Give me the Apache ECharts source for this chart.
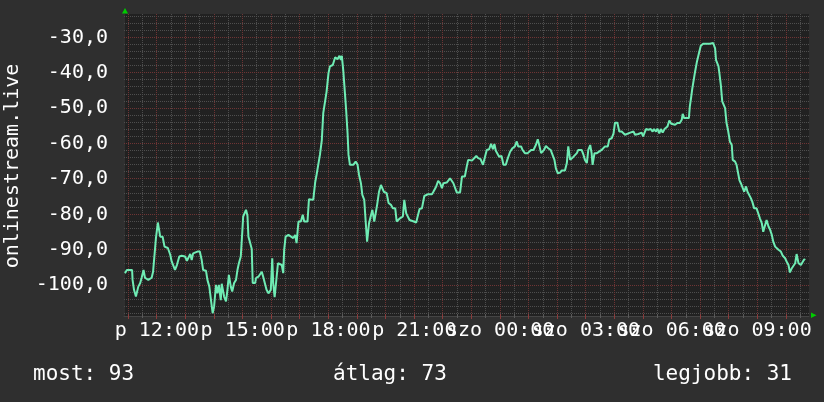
<!DOCTYPE html>
<html><head><meta charset="utf-8">
<script src="https://cdn.jsdelivr.net/npm/echarts@6/dist/echarts.min.js"></script>
<style>html,body{margin:0;padding:0;background:#2f2f2f;}#c{width:824px;height:402px;}</style>
</head><body><div id="c"></div>
<script>
// time in minutes since Friday 00:00
const times = [653,657,668,669,672,676,679,681,685,688,692,695,699,702,709,712,716,718,722,725,727,732,736,743,748,751,754,758,762,767,772,779,783,786,790,793,796,800,805,810,814,817,823,826,830,833,837,840,844,847,850,854,856,859,861,865,868,871,875,878,882,886,889,892,896,899,901,905,907,910,912,915,919,921,926,928,933,936,940,943,947,950,954,959,962,964,967,971,974,978,982,985,987,990,996,999,1006,1010,1013,1017,1022,1026,1029,1036,1039,1043,1048,1052,1055,1059,1062,1066,1069,1073,1076,1080,1083,1089,1094,1099,1103,1106,1108,1111,1115,1117,1120,1122,1125,1132,1137,1141,1144,1148,1151,1155,1158,1161,1165,1169,1172,1176,1180,1182,1186,1190,1194,1196,1202,1206,1211,1215,1220,1223,1230,1236,1239,1243,1246,1250,1259,1264,1267,1271,1276,1281,1289,1297,1300,1306,1310,1314,1318,1321,1328,1335,1339,1342,1345,1349,1356,1360,1366,1370,1373,1381,1385,1390,1394,1399,1404,1408,1412,1417,1421,1425,1428,1431,1435,1438,1443,1447,1452,1455,1461,1466,1471,1475,1478,1484,1487,1492,1498,1501,1505,1510,1515,1519,1522,1526,1529,1532,1536,1541,1546,1550,1554,1557,1561,1566,1569,1576,1580,1583,1587,1590,1594,1597,1601,1604,1611,1615,1618,1622,1625,1629,1632,1634,1638,1643,1646,1653,1657,1660,1666,1669,1674,1678,1681,1686,1690,1695,1699,1702,1706,1713,1720,1723,1730,1737,1740,1746,1751,1756,1760,1763,1767,1770,1774,1777,1781,1785,1788,1791,1795,1799,1803,1807,1812,1817,1821,1823,1826,1836,1838,1841,1843,1847,1849,1853,1856,1858,1861,1866,1880,1884,1887,1891,1893,1896,1898,1900,1903,1906,1910,1912,1915,1918,1922,1926,1928,1933,1936,1939,1942,1945,1949,1952,1956,1959,1963,1966,1969,1973,1978,1982,1985,1989,1992,1996,1999,2003,2006,2010,2013,2017,2024,2029,2033,2038,2041,2045,2048,2052,2055,2059,2062,2066,2071,2075,2078,2080];
const values = [-96.6,-95.7,-95.7,-98.5,-101.3,-103.2,-103.7,-100.4,-99.4,-97.9,-95.7,-97.9,-97.9,-98.5,-97.9,-96.2,-96.2,-86.7,-82.3,-82.5,-86.3,-86.3,-89.1,-89.5,-91.4,-93.3,-93.3,-95.7,-94.3,-91.9,-91.7,-91.9,-93.1,-93.1,-91.2,-92.9,-91.0,-91.4,-90.5,-90.5,-92.9,-95.7,-95.9,-98.5,-100.4,-103.7,-107.9,-106.0,-99.9,-102.3,-99.9,-104.2,-99.6,-99.6,-103.2,-104.6,-101.3,-97.1,-100.4,-101.8,-99.4,-98.5,-95.7,-93.8,-91.9,-85.3,-80.6,-80.1,-78.7,-80.4,-86.3,-87.7,-89.8,-99.4,-99.4,-98.0,-97.6,-98.0,-96.2,-97.6,-97.7,-101.3,-102.3,-101.3,-92.4,-99.4,-103.4,-103.4,-93.8,-93.6,-94.3,-96.6,-90.0,-86.3,-85.8,-85.3,-86.7,-85.8,-88.1,-82.0,-82.0,-80.1,-82.0,-82.0,-75.7,-75.7,-75.9,-71.0,-68.8,-68.8,-63.2,-59.0,-51.4,-51.0,-45.3,-40.1,-38.2,-37.8,-35.6,-36.2,-35.2,-36.4,-35.2,-39.4,-39.7,-50.5,-57.1,-63.2,-66.0,-66.0,-65.1,-66.0,-68.8,-71.2,-74.5,-75.9,-82.0,-87.7,-82.5,-82.0,-78.7,-82.0,-81.6,-77.3,-73.6,-71.7,-72.1,-73.6,-74.0,-76.8,-77.3,-78.3,-78.3,-82.0,-81.1,-80.6,-75.9,-79.7,-80.1,-81.6,-82.0,-82.3,-80.6,-78.5,-78.3,-74.8,-74.3,-74.3,-73.6,-72.1,-70.5,-71.2,-72.6,-71.2,-71.0,-69.8,-69.8,-71.2,-71.2,-73.8,-73.8,-69.3,-69.3,-66.5,-64.6,-64.8,-64.4,-63.5,-64.1,-64.4,-66.0,-66.0,-61.8,-61.6,-60.1,-61.6,-60.1,-62.0,-61.6,-63.7,-63.5,-66.0,-66.0,-64.6,-62.3,-61.3,-60.8,-59.4,-60.8,-60.8,-61.8,-62.7,-62.7,-62.3,-61.8,-61.8,-60.4,-58.8,-60.4,-62.7,-62.9,-61.8,-60.7,-61.3,-61.8,-63.2,-64.6,-67.0,-68.4,-68.2,-67.6,-67.6,-65.5,-60.8,-64.6,-65.1,-63.7,-63.2,-62.7,-61.8,-61.8,-63.2,-64.6,-65.5,-61.8,-60.4,-62.7,-66.0,-62.7,-62.7,-62.3,-61.8,-61.8,-60.8,-60.8,-58.8,-58.5,-57.1,-54.1,-54.1,-56.6,-56.6,-56.1,-57.5,-57.1,-56.9,-56.6,-57.5,-57.3,-56.9,-58.0,-55.9,-56.1,-55.9,-56.6,-55.9,-56.6,-55.8,-57.1,-55.9,-56.9,-55.9,-56.1,-55.2,-53.5,-54.4,-54.4,-54.7,-54.2,-54.2,-53.3,-51.6,-52.8,-52.8,-49.5,-46.7,-44.6,-44.4,-39.7,-36.8,-36.4,-34.0,-32.4,-31.8,-31.8,-31.5,-31.6,-33.1,-36.4,-36.6,-38.1,-40.1,-43.4,-48.1,-48.6,-50.0,-54.2,-56.1,-59.4,-60.4,-64.6,-65.1,-66.0,-66.5,-70.3,-71.2,-71.7,-73.6,-72.1,-73.6,-74.0,-75.4,-76.4,-78.3,-78.3,-78.7,-81.1,-82.5,-84.9,-83.0,-81.6,-83.4,-84.2,-85.8,-87.7,-89.1,-90.0,-90.5,-91.7,-92.4,-93.3,-94.3,-96.4,-95.2,-95.2,-93.8,-91.2,-93.8,-94.3,-93.8,-92.7,-92.9];

const xRange = [651, 2088];
const yRange = [-108.7, -23.4];
const xTickValues = [720, 900, 1080, 1260, 1440, 1620, 1800, 1980];
const xTickLabels = ['p 12:00', 'p 15:00', 'p 18:00', 'p 21:00', 'szo 00:00', 'szo 03:00', 'szo 06:00', 'szo 09:00'];
const yTickValues = [-30, -40, -50, -60, -70, -80, -90, -100];
const yTickLabels = ['-30,0', '-40,0', '-50,0', '-60,0', '-70,0', '-80,0', '-90,0', '-100,0'];
const yTitle = 'onlinestream.live';
const statLabels = ['most: 93', 'átlag: 73', 'legjobb: 31'];

if (times.length !== values.length) throw new Error('length mismatch ' + times.length + ' ' + values.length);

// grid/tick items: [kind (0 vertical line, 1 horizontal line, 2 x label), value, level or label index]
const gridItems = [];
for (let m = 690; m <= xRange[1]; m += 60) gridItems.push([0, m, 0]);
for (let v = -108; v <= -24; v += 2) if (v % 10 !== 0) gridItems.push([1, v, 0]);
for (let m = 660; m <= xRange[1]; m += 60) gridItems.push([0, m, 1]);
yTickValues.forEach(v => gridItems.push([1, v, 1]));
xTickValues.forEach((v, i) => gridItems.push([2, v, i]));

const FONT = 'DejaVu Sans Mono';
const RED = '#6e3434';
const GREY = '#4e4e4e';

const chart = echarts.init(document.getElementById('c'), null, {renderer: 'canvas'});
chart.setOption({
  backgroundColor: '#2f2f2f',
  animation: false,
  textStyle: {fontFamily: FONT},
  grid: {left: 124, right: 15, top: 14, bottom: 86, show: true, backgroundColor: '#212121', borderWidth: 0, containLabel: false, outerBoundsMode: 'none'},
  xAxis: {type: 'value', min: xRange[0], max: xRange[1], position: 'bottom',
     axisLine: {show: true, onZero: false, lineStyle: {color: '#444444', width: 1}},
     axisTick: {show: false}, splitLine: {show: false}, axisLabel: {show: false}},
  yAxis: {type: 'value', min: yRange[0], max: yRange[1], position: 'left',
     axisLine: {show: true, onZero: false, lineStyle: {color: '#303030', width: 2}},
     axisTick: {show: false},
     splitLine: {show: false},
     axisLabel: {show: true, customValues: yTickValues, color: '#ffffff', fontFamily: FONT, fontSize: 20, margin: 16,
       showMinLabel: true, showMaxLabel: true,
       formatter: v => { const i = yTickValues.indexOf(Math.round(v)); return i >= 0 ? yTickLabels[i] : ''; }}},
  graphic: [
    {type: 'polygon', shape: {points: [[122, 13.5], [128, 13.5], [125, 8]]}, style: {fill: '#00cc00'}, z: 100},
    {type: 'polygon', shape: {points: [[811, 312.5], [811, 318], [816.5, 315.2]]}, style: {fill: '#00cc00'}, z: 100},
    {type: 'text', x: 13, y: 166, rotation: Math.PI / 2,
     style: {text: yTitle, fill: '#ffffff', font: '20px "' + FONT + '"', textAlign: 'center', textVerticalAlign: 'middle'}},
    {type: 'text', x: 33, y: 375, style: {text: statLabels[0], fill: '#ffffff', font: '21px "' + FONT + '"', textAlign: 'left', textVerticalAlign: 'middle'}},
    {type: 'text', x: 333, y: 375, style: {text: statLabels[1], fill: '#ffffff', font: '21px "' + FONT + '"', textAlign: 'left', textVerticalAlign: 'middle'}},
    {type: 'text', x: 792, y: 375, style: {text: statLabels[2], fill: '#ffffff', font: '21px "' + FONT + '"', textAlign: 'right', textVerticalAlign: 'middle'}}
  ],
  series: [{
    type: 'custom', z: 1, silent: true, clip: false,
    data: gridItems,
    encode: {x: 1, y: 1},
    renderItem: function (params, api) {
      const cs = params.coordSys;
      const kind = api.value(0), val = api.value(1), extra = api.value(2);
      if (kind === 2) {
        const x = api.coord([val, yRange[0]])[0];
        return {type: 'text', x: x, y: cs.y + cs.height + 5,
          style: {text: xTickLabels[extra], fill: '#ffffff', font: '20px "' + FONT + '"', textAlign: 'center', textVerticalAlign: 'top'}};
      }
      const major = extra === 1;
      const color = major ? RED : GREY;
      const children = [];
      if (kind === 0) {
        const x = Math.floor(api.coord([val, yRange[0]])[0]) + 0.5;
        children.push({type: 'line', shape: {x1: x, y1: cs.y, x2: x, y2: cs.y + cs.height},
          style: {stroke: color, lineWidth: 1, lineDash: [1, 1]}});
        children.push({type: 'line', shape: {x1: x, y1: cs.y + cs.height - 2, x2: x, y2: cs.y + cs.height + (major ? 3 : 2)},
          style: {stroke: major ? '#8a3c3c' : '#5a5a5a', lineWidth: 1}});
      } else {
        const y = Math.floor(api.coord([xRange[0], val])[1]) + 0.5;
        children.push({type: 'line', shape: {x1: cs.x, y1: y, x2: cs.x + cs.width, y2: y},
          style: {stroke: color, lineWidth: 1, lineDash: [1, 1]}});
      }
      return {type: 'group', children: children};
    }
  }, {
    type: 'line', z: 3,
    data: times.map((t, i) => [t, values[i]]),
    showSymbol: false, symbol: 'none',
    lineStyle: {color: '#6fecb4', width: 2},
    clip: true
  }]
});
</script>
</body></html>
